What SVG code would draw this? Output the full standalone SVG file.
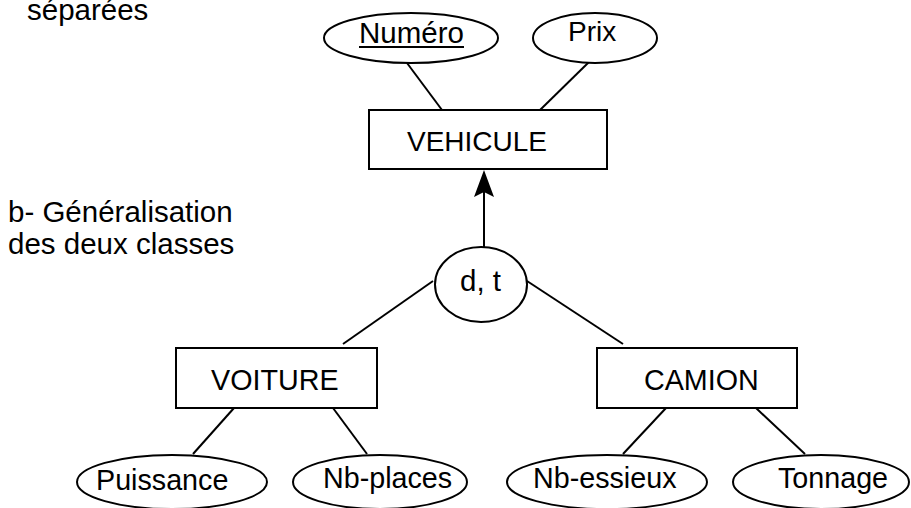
<svg xmlns="http://www.w3.org/2000/svg" width="911" height="508" viewBox="0 0 911 508">
  <style>
    .shape { fill: #ffffff; stroke: #000000; stroke-width: 2; }
    .link { fill: none; stroke: #000000; stroke-width: 2; }
    text { font-family: "Liberation Sans", Arial, sans-serif; font-size: 28.7px; fill: #000000; }
    .caption { font-size: 29.5px; }
  </style>
  <rect x="0" y="0" width="911" height="508" fill="#ffffff"/>

  <!-- captions -->
  <text class="caption" x="27" y="20">séparées</text>
  <text class="caption" x="8" y="222">b- Généralisation</text>
  <text class="caption" x="8" y="254">des deux classes</text>

  <!-- connectors -->
  <g id="connectors">
    <line class="link" x1="407" y1="63" x2="442" y2="110"/>
    <line class="link" x1="589" y1="62" x2="540" y2="110"/>
    <line class="link" x1="484" y1="247" x2="484" y2="186"/>
    <path d="M484,170 L494,197 L484,192 L474,197 Z" fill="#000000"/>
    <line class="link" x1="433" y1="281" x2="343" y2="344"/>
    <line class="link" x1="527" y1="281" x2="623" y2="344"/>
    <line class="link" x1="234" y1="408" x2="193" y2="454"/>
    <line class="link" x1="333" y1="408" x2="367" y2="454"/>
    <line class="link" x1="666" y1="408" x2="623" y2="454"/>
    <line class="link" x1="756" y1="408" x2="805" y2="454"/>
  </g>

  <!-- attributes of VEHICULE -->
  <g id="numero">
    <ellipse class="shape" cx="411" cy="38" rx="87" ry="25"/>
    <text x="359" y="43" style="font-size:29.5px">Numéro</text>
    <line x1="359" y1="47" x2="464" y2="47" stroke="#000000" stroke-width="2"/>
  </g>
  <g id="prix">
    <ellipse class="shape" cx="595" cy="38" rx="62" ry="25"/>
    <text x="568" y="41" style="font-size:28px">Prix</text>
  </g>

  <g id="vehicule">
    <rect class="shape" x="369" y="110" width="238" height="59"/>
    <text x="407" y="151" style="font-size:28px">VEHICULE</text>
  </g>

  <g id="specialisation">
    <ellipse class="shape" cx="481" cy="284.5" rx="46" ry="37.5"/>
    <text x="460" y="291" style="font-size:29.5px">d, t</text>
  </g>

  <g id="voiture">
    <rect class="shape" x="176" y="348" width="201" height="60"/>
    <text x="211" y="390">VOITURE</text>
  </g>
  <g id="camion">
    <rect class="shape" x="597" y="348" width="200" height="60"/>
    <text x="644" y="390">CAMION</text>
  </g>

  <!-- attributes of the subclasses -->
  <g id="puissance">
    <ellipse class="shape" cx="172" cy="482" rx="95" ry="27"/>
    <text x="96" y="490">Puissance</text>
  </g>
  <g id="nb-places">
    <ellipse class="shape" cx="380" cy="482" rx="87" ry="27"/>
    <text x="323" y="488">Nb-places</text>
  </g>
  <g id="nb-essieux">
    <ellipse class="shape" cx="607" cy="482" rx="100" ry="27"/>
    <text x="533" y="488">Nb-essieux</text>
  </g>
  <g id="tonnage">
    <ellipse class="shape" cx="821" cy="482" rx="88" ry="27"/>
    <text x="778" y="488">Tonnage</text>
  </g>
</svg>
